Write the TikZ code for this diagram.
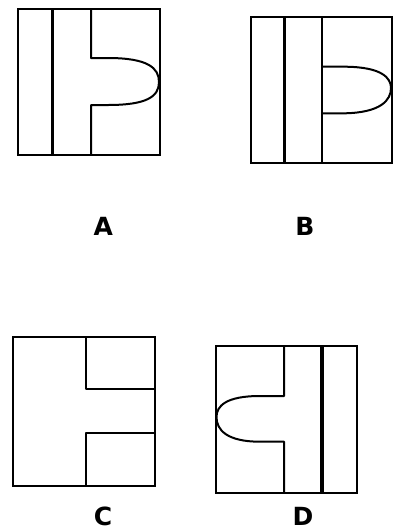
\documentclass[tikz,border=0pt]{standalone}
\usepackage{fontspec}
\newfontfamily\labelfont{DejaVu Sans}
\usepackage{tikz}
\tikzset{
  frame/.style={draw=black, line width=1.8pt},
  divider/.style={draw=black, line width=2pt, line join=round},
  bar/.style={draw=black, line width=3.6pt},
  letter/.style={font=\labelfont\bfseries\fontsize{25}{25}\selectfont, inner sep=0pt}
}

\begin{document}
\begin{tikzpicture}[x=1pt, y=-1pt]
  \useasboundingbox (0,0) rectangle (397,531);
  % A
  \draw[frame] (17.7,9.3) rectangle (160,155.3);
  \draw[bar] (52.3,9.3) -- (52.3,155.3);
  \draw[divider] (91,9.3) -- (91,58) -- (108,58)
    .. controls (148,58) and (159,68) .. (159,82)
    .. controls (159,97) and (146,105) .. (108,105) -- (91,105) -- (91,155.3);
  \node[letter] (labelA) at (103.3,226) {A};
  % B
  \draw[frame] (250.7,16.7) rectangle (391.7,163.3);
  \draw[bar] (284.3,16.7) -- (284.3,163.3);
  \draw[divider] (322.3,16.7) -- (322.3,163.3);
  \draw[divider] (322.3,66.7) -- (345,66.7)
    .. controls (382,67) and (391,78) .. (391,88)
    .. controls (391,100) and (381,112.5) .. (345,113.3) -- (322.3,113.3);
  \node[letter] (labelB) at (305,226) {B};
  % C
  \draw[frame] (13.3,337.3) rectangle (155,485.7);
  \draw[divider] (86,337.3) -- (86,389) -- (155,389);
  \draw[divider] (155,432.7) -- (86,432.7) -- (86,485.7);
  \node[letter] (labelC) at (103,516.7) {C};
  % D
  \draw[frame] (216,346) rectangle (357.3,492.7);
  \draw[bar] (321.7,346) -- (321.7,492.7);
  \draw[divider] (284,346) -- (284,396) -- (260,396)
    .. controls (226,396) and (216.5,406) .. (216.5,417)
    .. controls (216.5,430) and (227,441.7) .. (260,441.7) -- (284,441.7) -- (284,492.7);
  \node[letter] (labelD) at (303,516.7) {D};
\end{tikzpicture}
\end{document}
